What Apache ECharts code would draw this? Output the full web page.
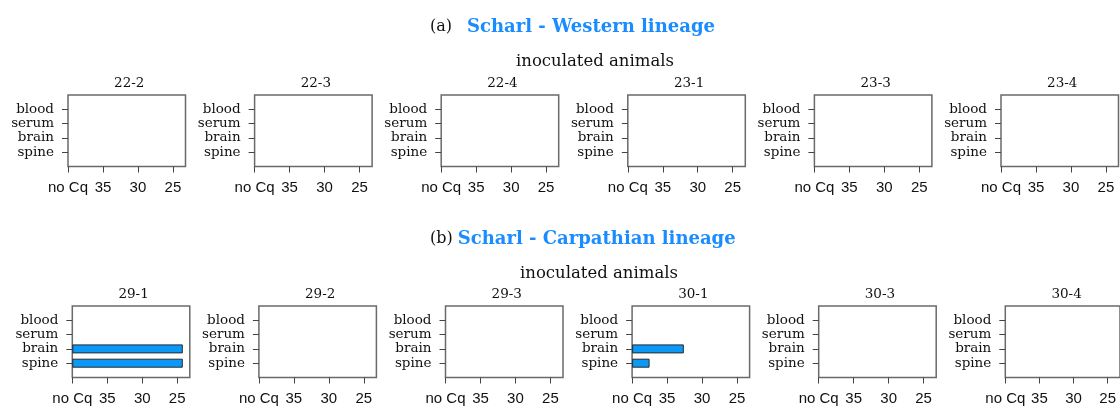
<!DOCTYPE html>
<html>
<head>
<meta charset="utf-8">
<script src="https://cdn.jsdelivr.net/npm/echarts@6/dist/echarts.min.js"></script>
<style>
  html, body { margin: 0; padding: 0; background: #fff; }
  #main { width: 1120px; height: 408px; }
</style>
</head>
<body>
<div id="main"></div>
<script>
// tissues, top to bottom as in the picture
var tissues = ['blood', 'serum', 'brain', 'spine'];

var westernAnimals = ['22-2', '22-3', '22-4', '23-1', '23-3', '23-4'];
var carpathianAnimals = ['29-1', '29-2', '29-3', '30-1', '30-3', '30-4'];

// Cq per animal, order: blood, serum, brain, spine (null = no Cq)
var westernCq = [
    [null, null, null, null],
    [null, null, null, null],
    [null, null, null, null],
    [null, null, null, null],
    [null, null, null, null],
    [null, null, null, null]
];
var carpathianCq = [
    [null, null, 24.2, 24.2],
    [null, null, null, null],
    [null, null, null, null],
    [null, null, 32.6, 37.5],
    [null, null, null, null],
    [null, null, null, null]
];

var noCq = 40;
var cqTicks = [40, 35, 30, 25];
var cqTickLabels = ['no Cq', '35', '30', '25'];
var cqLowest = 23.2;   // right edge of every panel

var serif = 'DejaVu Serif';
var sans = 'Liberation Sans';

var myChart = echarts.init(document.getElementById('main'));

var grids = [], xAxes = [], yAxes = [], series = [], titles = [];

// category axis padded with empty ends so the four rows sit like in R
var yCats = [''].concat(tissues.slice().reverse()).concat(['']);
var tickVals = cqTicks.map(function (c) { return noCq - c; });

function addPanel(name, cq, left, top) {
    var i = grids.length;
    var w = 117.5, h = 71.5;
    grids.push({
        left: left, top: top, width: w, height: h,
        show: true, borderColor: '#6a6a6a', borderWidth: 1.5,
        backgroundColor: '#fff'
    });
    xAxes.push({
        gridIndex: i, type: 'value', min: 0, max: noCq - cqLowest, interval: 5,
        axisLine: { show: false },
        splitLine: { show: false },
        axisTick: { show: true, length: 6, customValues: tickVals, lineStyle: { color: '#444' } },
        axisLabel: {
            customValues: tickVals,
            formatter: function (v) {
                var k = tickVals.indexOf(v);
                return k >= 0 ? cqTickLabels[k] : '';
            },
            fontFamily: sans, fontSize: 15, color: '#111', margin: 14
        }
    });
    yAxes.push({
        gridIndex: i, type: 'category', data: yCats, boundaryGap: false,
        axisLine: { show: false },
        splitLine: { show: false },
        axisTick: {
            show: true, length: 6,
            interval: function (idx, val) { return val !== ''; },
            lineStyle: { color: '#444' }
        },
        axisLabel: { interval: 0, fontFamily: serif, fontSize: 13.5, color: '#111', margin: 14 }
    });
    var vals = [null].concat(cq.slice().reverse()).concat([null]);
    series.push({
        type: 'bar', xAxisIndex: i, yAxisIndex: i,
        barWidth: 9,
        data: vals.map(function (v) { return v == null ? null : noCq - v; }),
        itemStyle: { color: '#0a99f7', borderColor: '#2a2a2a', borderWidth: 1 },
        silent: true
    });
    titles.push({
        text: name, left: left + w / 2 - 2.5, top: top - 24, textAlign: 'center',
        textStyle: { fontFamily: serif, fontSize: 13.5, fontWeight: 'normal', color: '#111' }
    });
}

var step = 186.6;
westernAnimals.forEach(function (a, k) {
    addPanel(a, westernCq[k], 68 + k * step, 95);
});
carpathianAnimals.forEach(function (a, k) {
    addPanel(a, carpathianCq[k], 72.3 + k * step, 306);
});

var rich = {
    p: { fontFamily: serif, fontSize: 16, fontWeight: 'normal', color: '#111' },
    t: { fontFamily: serif, fontSize: 18, fontWeight: 'bold', color: '#1a8cff' }
};
titles.push({ text: '{p|(a)}   {t|Scharl - Western lineage}', left: 425, top: 13, textStyle: { rich: rich } });
titles.push({ text: 'inoculated animals', left: 511, top: 48, textStyle: { fontFamily: serif, fontSize: 16.5, fontWeight: 'normal', color: '#111' } });
titles.push({ text: '{p|(b)} {t|Scharl - Carpathian lineage}', left: 425, top: 225, textStyle: { rich: rich } });
titles.push({ text: 'inoculated animals', left: 515, top: 260, textStyle: { fontFamily: serif, fontSize: 16.5, fontWeight: 'normal', color: '#111' } });

option = {
    animation: false,
    backgroundColor: '#fff',
    title: titles,
    grid: grids,
    xAxis: xAxes,
    yAxis: yAxes,
    series: series
};

myChart.setOption(option);
</script>
</body>
</html>
